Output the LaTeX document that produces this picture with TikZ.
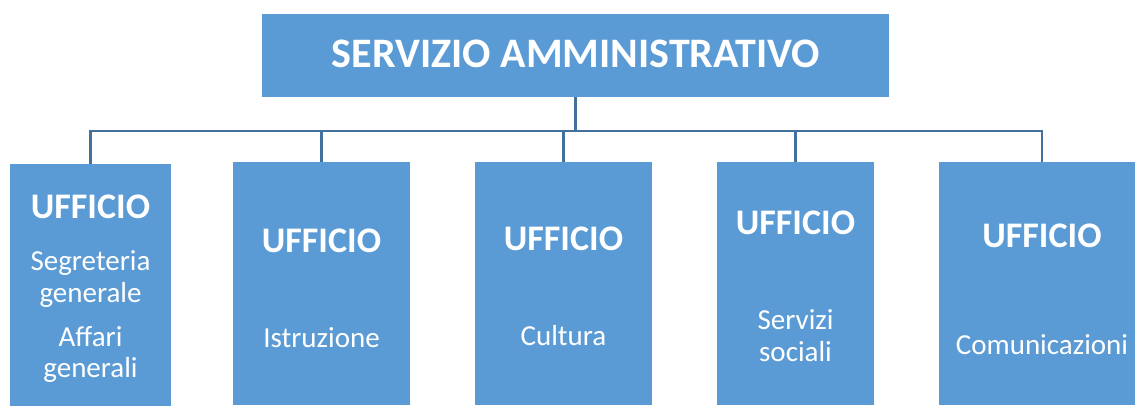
\documentclass[tikz,border=0pt]{standalone}
\usepackage{fontspec}
\setmainfont{Carlito}
\definecolor{boxblue}{HTML}{5B9BD5}
\definecolor{lineblue}{HTML}{41719C}
\tikzset{
  box/.style={fill=boxblue, draw=none, inner sep=0pt, anchor=north west},
  conn/.style={draw=lineblue, line width=2.6pt},
  head/.style={text=white, font=\fontsize{36}{40}\selectfont\bfseries, anchor=base, inner sep=0pt},
  title/.style={text=white, font=\fontsize{42}{46}\selectfont\bfseries, anchor=base, inner sep=0pt},
  sub/.style={text=white, font=\fontsize{29}{32}\selectfont, anchor=base, inner sep=0pt},
}
\begin{document}
\begin{tikzpicture}[x=1pt,y=-1pt]
\useasboundingbox (0,0) rectangle (1135,405);
% boxes
\node[box, minimum width=627pt, minimum height=83pt] (top) at (262,14) {};
\node[box, minimum width=161pt, minimum height=242pt] (b1) at (10,164) {};
\node[box, minimum width=177pt, minimum height=243pt] (b2) at (233,162) {};
\node[box, minimum width=177pt, minimum height=243pt] (b3) at (475,162) {};
\node[box, minimum width=157pt, minimum height=243pt] (b4) at (717,162) {};
\node[box, minimum width=196pt, minimum height=243pt] (b5) at (939,162) {};
% connectors
\coordinate (busL) at (90,131);
\coordinate (busR) at (1042,131);
\draw[conn] (top.south) -- (top.south |- busL);
\draw[conn] (b1.north) |- (busR) -- (busR |- b5.north);
\draw[conn] (b2.north) -- (b2.north |- busL);
\draw[conn] (b3.north) -- (b3.north |- busL);
\draw[conn] (b4.north) -- (b4.north |- busL);
% texts
\node[title] (ttop) at (576,67) {SERVIZIO AMMINISTRATIVO};
\node[head] (h1) at (90.5,218) {UFFICIO};
\node[sub] (s1a) at (90.5,270) {Segreteria};
\node[sub] (s1b) at (90.5,302) {generale};
\node[sub] (s1c) at (90.5,346) {Affari};
\node[sub] (s1d) at (90.5,377) {generali};
\node[head] (h2) at (321.5,252) {UFFICIO};
\node[sub] (s2) at (321.5,347) {Istruzione};
\node[head] (h3) at (563.5,250) {UFFICIO};
\node[sub] (s3) at (563.5,345) {Cultura};
\node[head] (h4) at (795.5,234) {UFFICIO};
\node[sub] (s4a) at (795.5,329) {Servizi};
\node[sub] (s4b) at (795.5,361) {sociali};
\node[head] (h5) at (1042,247) {UFFICIO};
\node[sub] (s5) at (1042,354) {Comunicazioni};
\end{tikzpicture}
\end{document}
